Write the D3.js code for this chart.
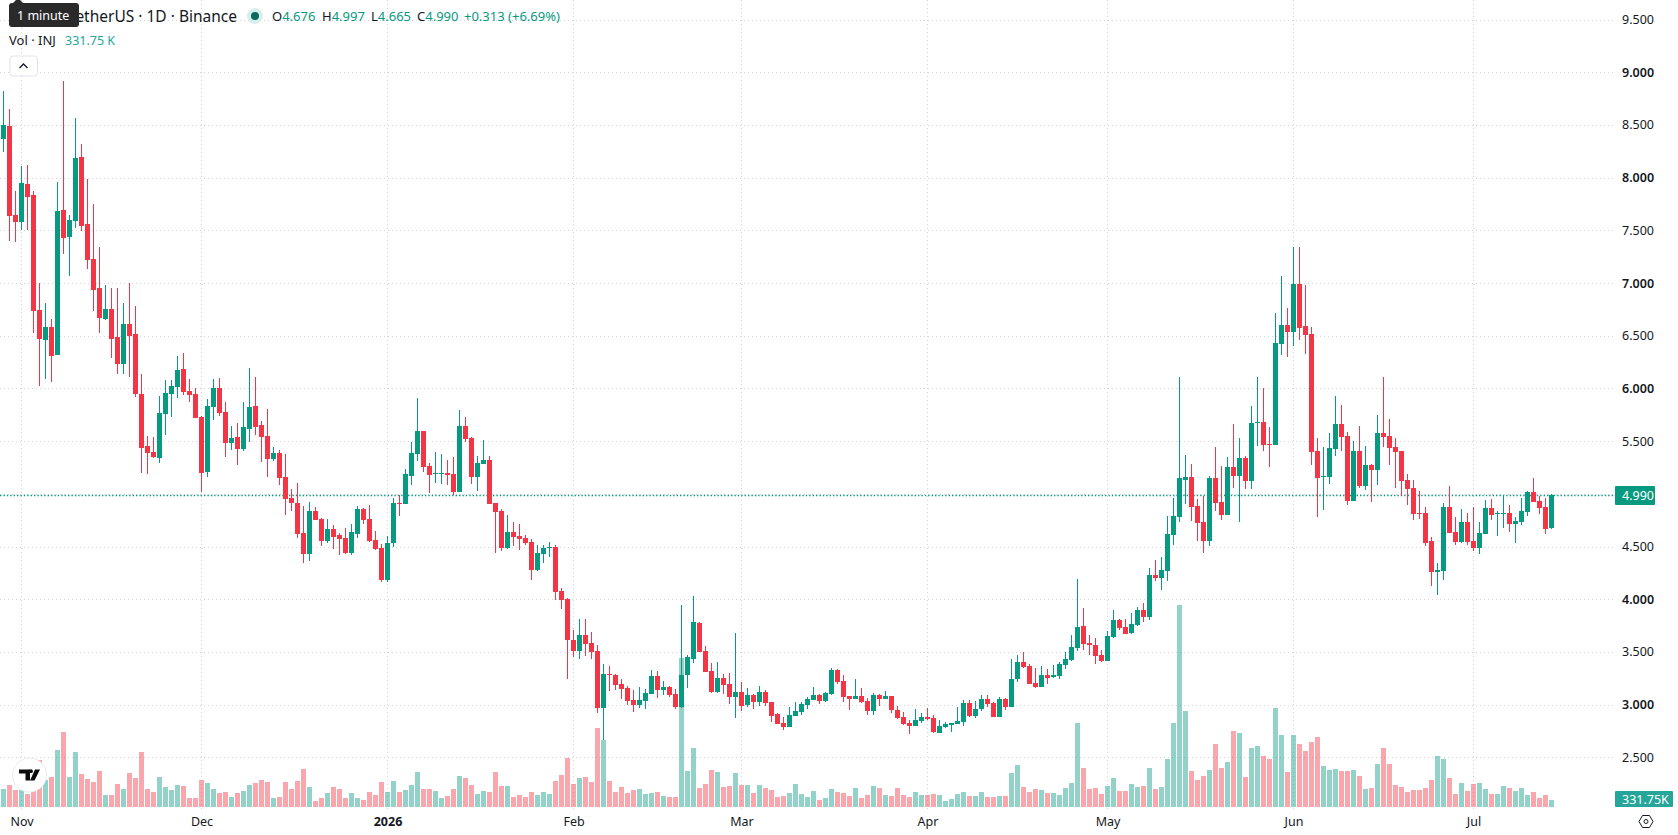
<!DOCTYPE html>
<html>
<head>
<meta charset="utf-8">
<title>INJ / TetherUS 1D</title>
<script src="https://cdn.jsdelivr.net/npm/d3@7/dist/d3.min.js"></script>
<style>
  html, body { margin: 0; padding: 0; background: #fff; overflow: hidden; }
  svg { display: block; font-family: "Noto Sans", sans-serif; }
</style>
</head>
<body>
<svg id="chart" width="1678" height="835"></svg>
<script>
// Daily INJ/USDT candles and traded volume (thousands of INJ), oldest first.
const firstDay = "2025-10-29";

const opens = [
  8.367,8.490,7.646,7.579,7.940,7.836,6.744,6.459,6.583,6.317,
  7.693,7.437,7.589,8.196,7.560,7.228,6.953,6.659,6.754,6.488,
  6.232,6.611,6.516,5.947,5.453,5.396,5.339,5.757,5.947,6.014,
  6.184,5.975,5.947,5.729,5.207,5.823,6.004,5.776,5.482,5.539,
  5.425,5.615,5.833,5.652,5.548,5.330,5.387,5.159,4.959,4.912,
  4.627,4.428,4.836,4.760,4.551,4.665,4.608,4.580,4.437,4.618,
  4.855,4.760,4.561,4.485,4.181,4.532,4.912,4.902,5.168,5.377,
  5.595,5.263,5.187,5.187,5.197,5.187,5.016,5.643,5.529,5.159,
  5.282,5.320,4.912,4.836,4.485,4.637,4.599,4.580,4.542,4.276,
  4.428,4.485,4.494,4.076,4.000,3.611,3.507,3.659,3.583,3.507,
  2.966,3.288,3.279,3.193,3.156,3.042,2.994,3.032,3.099,3.269,
  3.137,3.165,3.099,2.975,3.279,3.431,3.772,3.507,3.317,3.118,
  3.250,3.193,3.070,3.118,2.994,3.089,3.023,3.118,3.023,2.909,
  2.823,2.785,2.890,2.928,2.994,3.042,3.089,3.032,3.099,3.333,
  3.228,3.086,3.057,3.086,3.038,2.943,3.095,3.057,3.086,2.953,
  2.886,2.829,2.801,2.848,2.886,2.877,2.735,2.792,2.810,2.820,
  2.839,3.019,2.896,2.962,3.057,3.019,2.886,3.057,2.981,3.247,
  3.408,3.371,3.209,3.171,3.285,3.266,3.276,3.380,3.421,3.535,
  3.744,3.583,3.564,3.469,3.412,3.640,3.801,3.735,3.678,3.754,
  3.896,3.830,4.228,4.200,4.266,4.608,4.779,5.130,5.158,4.883,
  4.731,4.551,5.149,4.921,4.798,5.253,5.168,5.339,5.120,5.671,
  5.683,5.475,5.465,6.424,6.604,6.538,6.993,6.595,6.519,5.408,
  5.161,5.161,5.427,5.665,5.551,4.934,5.408,5.076,5.275,5.228,
  5.579,5.551,5.446,5.408,5.133,5.057,4.820,4.820,4.554,4.260,
  4.269,4.877,4.639,4.544,4.734,4.554,4.488,4.620,4.867,4.810,
  4.810,4.820,4.715,4.734,4.829,5.019,4.934,4.877,4.676
];

const highs = [
  8.823,8.652,7.874,8.111,8.120,7.874,6.997,6.811,6.659,7.959,
  8.918,7.646,8.566,8.320,7.987,7.750,7.342,6.981,6.953,6.953,
  6.811,6.997,6.782,6.137,5.548,5.539,5.928,6.080,6.080,6.308,
  6.336,6.089,6.004,5.738,5.900,6.089,6.099,5.871,5.643,5.672,
  5.871,6.194,6.108,5.691,5.804,5.444,5.415,5.377,5.045,5.102,
  4.883,4.921,4.874,4.769,4.760,4.703,4.627,4.675,4.712,4.883,
  4.864,4.893,4.646,4.523,4.599,4.959,4.988,5.235,5.491,5.908,
  5.595,5.292,5.396,5.377,5.320,5.348,5.795,5.728,5.538,5.358,
  5.510,5.358,4.912,4.855,4.798,4.731,4.712,4.608,4.570,4.513,
  4.513,4.542,4.510,4.105,4.010,3.706,3.810,3.810,3.687,3.564,
  3.383,3.364,3.288,3.241,3.175,3.137,3.165,3.146,3.326,3.317,
  3.222,3.175,3.146,3.943,3.469,4.029,3.782,3.554,3.393,3.402,
  3.288,3.298,3.678,3.212,3.156,3.099,3.175,3.137,3.023,2.918,
  2.880,2.975,3.023,3.023,3.070,3.165,3.099,3.118,3.345,3.342,
  3.285,3.086,3.247,3.162,3.067,3.114,3.105,3.133,3.086,2.991,
  2.934,2.858,2.962,2.924,2.972,2.905,2.858,2.839,2.829,2.981,
  3.048,3.048,3.038,3.095,3.095,3.029,3.076,3.067,3.437,3.475,
  3.500,3.390,3.352,3.371,3.342,3.380,3.408,3.503,3.659,4.190,
  3.915,3.659,3.630,3.516,3.697,3.896,3.811,3.811,3.868,3.925,
  3.962,4.295,4.371,4.399,4.788,4.959,6.108,5.367,5.282,4.950,
  4.978,5.168,5.443,5.263,5.348,5.662,5.529,5.358,5.832,6.108,
  6.006,5.636,6.718,7.069,6.766,7.345,7.345,6.984,6.585,5.532,
  5.446,5.579,5.930,5.845,5.589,5.503,5.646,5.456,5.285,5.750,
  6.111,5.712,5.532,5.408,5.190,5.133,5.029,4.877,4.592,4.345,
  4.915,5.076,4.782,4.858,4.820,4.877,4.734,4.943,4.953,4.839,
  4.991,4.896,4.782,4.962,5.029,5.152,4.981,4.962,4.997
];

const lows = [
  8.244,7.399,7.389,7.503,7.503,6.526,6.023,6.089,6.061,6.317,
  7.276,7.067,7.522,7.494,7.133,6.735,6.526,6.649,6.289,6.137,
  6.137,6.108,5.918,5.197,5.187,5.339,5.292,5.558,5.729,5.909,
  5.938,5.871,5.719,5.017,5.159,5.700,5.738,5.349,5.415,5.273,
  5.406,5.491,5.558,5.301,5.159,5.311,5.083,4.798,4.836,4.580,
  4.342,4.361,4.750,4.504,4.532,4.475,4.418,4.428,4.418,4.580,
  4.712,4.542,4.466,4.162,4.162,4.494,4.788,4.902,5.083,5.310,
  5.206,5.007,5.102,5.092,5.083,4.988,5.016,5.491,5.092,5.026,
  5.282,4.902,4.437,4.456,4.475,4.504,4.466,4.513,4.181,4.266,
  4.342,4.399,3.991,3.905,3.241,3.450,3.431,3.459,3.431,2.918,
  2.662,3.127,3.137,3.051,2.994,2.928,2.966,2.956,3.099,3.061,
  3.089,3.070,2.956,2.966,3.156,3.393,3.497,3.307,3.108,3.108,
  3.099,3.004,2.871,2.937,2.975,2.956,2.985,2.985,2.833,2.814,
  2.757,2.785,2.890,2.899,2.956,3.042,3.004,3.023,3.089,3.200,
  3.029,2.953,3.057,3.019,2.905,2.905,2.991,3.057,2.924,2.867,
  2.810,2.725,2.801,2.829,2.858,2.735,2.735,2.782,2.744,2.820,
  2.801,2.886,2.877,2.943,2.981,2.886,2.886,2.953,2.981,3.219,
  3.352,3.200,3.162,3.171,3.200,3.257,3.247,3.342,3.412,3.507,
  3.516,3.469,3.383,3.402,3.412,3.630,3.706,3.668,3.668,3.744,
  3.782,3.801,4.171,4.086,4.171,4.513,4.731,4.902,4.741,4.551,
  4.437,4.503,4.836,4.750,4.798,5.054,4.731,5.045,5.045,5.453,
  5.408,5.256,5.465,6.319,6.301,6.405,6.462,6.329,5.275,4.782,
  4.848,5.095,5.361,5.408,4.896,4.934,5.057,5.038,4.924,5.086,
  5.446,5.275,5.057,4.981,4.896,4.753,4.763,4.507,4.127,4.041,
  4.184,4.630,4.516,4.535,4.516,4.459,4.431,4.620,4.753,4.602,
  4.677,4.639,4.535,4.706,4.791,4.924,4.810,4.620,4.665
];

const closes = [
  8.500,7.636,7.579,7.949,7.817,6.735,6.469,6.583,6.308,7.684,
  7.428,7.598,8.187,7.541,7.219,6.934,6.668,6.754,6.469,6.232,
  6.611,6.497,5.947,5.434,5.387,5.349,5.766,5.956,6.023,6.175,
  5.966,5.938,5.719,5.197,5.833,6.004,5.766,5.482,5.529,5.425,
  5.634,5.823,5.634,5.539,5.330,5.387,5.149,4.950,4.912,4.618,
  4.428,4.836,4.750,4.551,4.665,4.589,4.570,4.437,4.637,4.855,
  4.750,4.551,4.475,4.181,4.532,4.912,4.902,5.187,5.386,5.595,
  5.254,5.178,5.197,5.197,5.178,5.016,5.643,5.519,5.159,5.292,
  5.320,4.902,4.826,4.485,4.637,4.589,4.570,4.532,4.276,4.437,
  4.485,4.494,4.067,3.991,3.611,3.507,3.659,3.573,3.497,2.966,
  3.288,3.279,3.184,3.146,3.032,2.994,3.042,3.108,3.269,3.137,
  3.165,3.089,2.975,3.279,3.450,3.782,3.497,3.307,3.118,3.250,
  3.184,3.070,3.118,2.985,3.089,3.023,3.118,3.013,2.890,2.814,
  2.785,2.899,2.937,3.004,3.051,3.089,3.032,3.108,3.326,3.219,
  3.076,3.057,3.086,3.029,2.943,3.095,3.057,3.086,2.953,2.877,
  2.820,2.801,2.858,2.886,2.867,2.744,2.801,2.820,2.829,2.848,
  3.019,2.896,2.962,3.057,3.010,2.886,3.057,2.981,3.247,3.408,
  3.361,3.200,3.171,3.285,3.257,3.285,3.390,3.434,3.545,3.735,
  3.573,3.564,3.459,3.412,3.649,3.801,3.725,3.668,3.763,3.896,
  3.830,4.228,4.200,4.276,4.617,4.788,5.149,5.158,4.874,4.722,
  4.551,5.149,4.912,4.798,5.253,5.168,5.339,5.120,5.671,5.680,
  5.465,5.465,6.433,6.604,6.538,6.993,6.576,6.509,5.399,5.152,
  5.171,5.437,5.665,5.541,4.934,5.408,5.076,5.275,5.228,5.579,
  5.541,5.437,5.399,5.123,5.048,4.810,4.810,4.535,4.260,4.279,
  4.877,4.630,4.544,4.734,4.544,4.488,4.630,4.867,4.801,4.820,
  4.820,4.715,4.744,4.839,5.019,4.924,4.867,4.668,4.990
];

const volumes = [
  853,1043,806,806,616,758,2228,1280,1422,2702,
  3555,1422,2607,1564,1327,1185,1706,569,569,1090,
  853,1612,1375,2607,853,711,1422,948,806,1043,
  995,427,427,1280,1138,853,664,711,474,664,
  758,1043,1138,1280,1185,427,474,1185,853,1232,
  1801,948,284,427,664,948,853,427,664,427,
  332,711,569,1185,711,1232,711,806,1043,1659,
  853,853,758,427,521,853,1469,1375,1043,616,
  758,711,1659,995,995,474,569,474,711,569,
  711,616,1232,1517,2323,1090,1375,1422,1185,3745,
  3176,1232,711,948,664,806,853,616,664,711,
  521,474,474,7063,1706,2797,901,1090,1754,1659,
  948,995,1612,1043,1043,664,1043,901,806,474,
  521,664,1090,616,474,758,332,427,853,711,
  664,521,901,427,569,995,901,569,521,901,
  569,474,711,569,569,616,569,284,379,616,
  711,521,521,711,474,474,521,521,1612,1991,
  948,711,853,806,664,664,569,901,1138,3982,
  1849,853,901,616,995,1375,758,758,1090,948,
  995,1849,853,948,2275,3982,9575,4550,1706,1280,
  1469,1754,2986,1849,2133,3602,3508,1422,2797,2891,
  2417,2275,4693,3413,1659,3413,2986,2654,3081,3318,
  1943,1754,1801,1706,1706,1754,1469,853,901,2038,
  2797,2038,1043,948,711,806,806,901,1280,2417,
  2275,1375,616,1138,758,1090,1138,853,616,616,
  995,901,758,901,569,711,427,569,331.75
];

const priceTicks = [9.5, 9, 8.5, 8, 7.5, 7, 6.5, 6, 5.5, 5, 4.5, 4, 3.5, 3, 2.5];
const monthStarts = ["2025-11-01","2025-12-01","2026-01-01","2026-02-01","2026-03-01","2026-04-01","2026-05-01","2026-06-01","2026-07-01"];
const monthLabels = ["Nov","Dec","2026","Feb","Mar","Apr","May","Jun","Jul"];

const UP = "#089981", DOWN = "#F23645", INK = "#131722", GRID = "#d4d4d4";
const PANE_RIGHT = 1613, PANE_BOTTOM = 807;

const days = closes.map((_, i) => d3.utcDay.offset(new Date(firstDay + "T00:00:00Z"), i));
const candles = closes.map((c, i) => ({
  day: days[i], open: opens[i], high: highs[i], low: lows[i], close: c, volume: volumes[i], up: c >= opens[i]
}));
const last = candles[candles.length - 1];

const x = d3.scaleUtc().domain([days[0], days[days.length - 1]]).range([3.5, 1551.5]);
const y = d3.scaleLinear().domain([9, 2.5]).range([72.3, 757.3]);
const yVol = d3.scaleLinear().domain([0, 9575]).range([PANE_BOTTOM, 605]);
const monthDates = monthStarts.map(d => new Date(d + "T00:00:00Z"));

const svg = d3.select("#chart");

// Dotted grid behind everything
const grid = svg.append("g").attr("stroke", GRID).attr("stroke-dasharray", "1 3").attr("shape-rendering", "crispEdges");
grid.selectAll("line.h").data(priceTicks).join("line").attr("class", "h")
  .attr("x1", 0).attr("x2", PANE_RIGHT)
  .attr("y1", d => Math.round(y(d)) + 0.5).attr("y2", d => Math.round(y(d)) + 0.5);
grid.selectAll("line.v").data(monthDates).join("line").attr("class", "v")
  .attr("x1", d => x(d)).attr("x2", d => x(d))
  .attr("y1", 0).attr("y2", PANE_BOTTOM + 2);

// Volume histogram along the bottom of the pane
svg.append("g").attr("shape-rendering", "crispEdges")
  .selectAll("rect").data(candles).join("rect")
  .attr("x", d => x(d.day) - 2.5)
  .attr("width", 5)
  .attr("y", d => Math.round(yVol(d.volume)))
  .attr("height", d => PANE_BOTTOM - Math.round(yVol(d.volume)))
  .attr("fill", d => d.up ? UP : DOWN)
  .attr("fill-opacity", 0.44);

// Last price marker line
svg.append("line")
  .attr("x1", 0).attr("x2", PANE_RIGHT)
  .attr("y1", Math.round(y(last.close)) + 0.5).attr("y2", Math.round(y(last.close)) + 0.5)
  .attr("stroke", UP).attr("stroke-width", 1.4).attr("stroke-dasharray", "1.4 2");

// Candles: wick first, then body
const candle = svg.append("g").attr("shape-rendering", "crispEdges")
  .selectAll("g").data(candles).join("g")
  .attr("fill", d => d.up ? UP : DOWN);
candle.append("rect")
  .attr("x", d => x(d.day) - 0.5)
  .attr("width", 1)
  .attr("y", d => Math.round(y(d.high)))
  .attr("height", d => Math.max(1, Math.round(y(d.low)) - Math.round(y(d.high))));
candle.append("rect")
  .attr("x", d => x(d.day) - 2.5)
  .attr("width", 5)
  .attr("y", d => Math.round(y(Math.max(d.open, d.close))))
  .attr("height", d => Math.max(1, Math.round(y(Math.min(d.open, d.close))) - Math.round(y(Math.max(d.open, d.close)))));

// Price axis on the right
const priceAxis = svg.append("g")
  .attr("transform", "translate(1622,0)")
  .call(d3.axisRight(y).tickValues(priceTicks.filter(t => t !== 5)).tickSize(0).tickPadding(0).tickFormat(d3.format(".3f")));
priceAxis.select(".domain").remove();
priceAxis.selectAll("text")
  .attr("fill", INK).attr("font-size", 12.5).attr("font-family", '"Noto Sans", sans-serif')
  .attr("font-weight", d => Number.isInteger(d) ? 600 : 400);

// Time axis along the bottom
const timeAxis = svg.append("g")
  .attr("transform", "translate(0,817)")
  .call(d3.axisBottom(x).tickValues(monthDates).tickSize(0).tickPadding(0).tickFormat((d, i) => monthLabels[i]));
timeAxis.select(".domain").remove();
timeAxis.selectAll("text")
  .attr("fill", INK).attr("font-size", 12.5).attr("font-family", '"Noto Sans", sans-serif')
  .attr("font-weight", (d, i) => monthLabels[i] === "2026" ? 700 : 400);

// Value tags on the price axis
function priceTag(yTop, width, height, fill, label) {
  svg.append("rect").attr("x", 1615).attr("y", yTop).attr("width", width).attr("height", height).attr("rx", 1).attr("fill", fill);
  svg.append("text").attr("x", 1622).attr("y", yTop + height / 2 + 4.5).attr("fill", "#fff").attr("font-size", 12.5).text(label);
}
priceTag(Math.round(y(last.close)) - 9, 40, 19, UP, d3.format(".3f")(last.close));
priceTag(791, 58, 16, "#26a69a", d3.format(".2f")(last.volume) + "K");

// Legend: symbol line, its start sits under the tooltip
svg.append("text").attr("x", 237).attr("y", 22).attr("text-anchor", "end")
  .attr("fill", INK).attr("font-size", 15.5).text("etherUS · 1D · Binance");
svg.append("circle").attr("cx", 255).attr("cy", 16).attr("r", 8).attr("fill", "#d8efeb");
svg.append("circle").attr("cx", 255).attr("cy", 16).attr("r", 4).attr("fill", "#0b6b5a");

const ohlcItems = [["O", last.open, 272], ["H", last.high, 322], ["L", last.low, 371], ["C", last.close, 417]];
ohlcItems.forEach(([letter, value, at]) => {
  const t = svg.append("text").attr("x", at).attr("y", 21).attr("font-size", 13);
  t.append("tspan").attr("fill", INK).text(letter);
  t.append("tspan").attr("fill", UP).text(d3.format(".3f")(value));
});
svg.append("text").attr("x", 464).attr("y", 21).attr("font-size", 13).attr("fill", UP)
  .text("+0.313 (+6.69%)");

// Legend: volume line
svg.append("text").attr("x", 9).attr("y", 45).attr("font-size", 13).attr("fill", INK).text("Vol · INJ");
svg.append("text").attr("x", 65).attr("y", 45).attr("font-size", 12.5).attr("fill", "#26a69a").text("331.75 K");

// Collapse button
svg.append("rect").attr("x", 10).attr("y", 56).attr("width", 27.5).attr("height", 20).attr("rx", 3)
  .attr("fill", "#fff").attr("stroke", "#e0e3eb");
svg.append("path").attr("d", "M19.5 68 L23.5 64 L27.5 68").attr("fill", "none").attr("stroke", INK).attr("stroke-width", 1.3);

// Tooltip over the start of the symbol line
svg.append("path").attr("d", "M12 4 L18 -2 L24 4 Z").attr("fill", "#2a2a2a");
svg.append("rect").attr("x", 9).attr("y", 3).attr("width", 70).attr("height", 24).attr("rx", 3).attr("fill", "#2a2a2a");
svg.append("text").attr("x", 17).attr("y", 20).attr("fill", "#fff").attr("font-size", 12.5).text("1 minute");

// Brand badge at the lower left of the pane
const badge = svg.append("g").attr("transform", "translate(29.5,775)");
badge.append("circle").attr("r", 17).attr("fill", "#fff").attr("stroke", "#ececec").attr("stroke-width", 1);
badge.append("path").attr("fill", "#0b0b0b")
  .attr("d", "M-10.5 -5.5 H0.5 V5.5 H-4 V-1.5 H-10.5 Z M10.5 -5.5 L5 5.5 H0.5 L5.5 -5.5 Z");
badge.append("circle").attr("cx", 1.5).attr("cy", -3.8).attr("r", 1.9).attr("fill", "#0b0b0b");

// Settings hexagon in the corner between the axes
const gear = svg.append("g").attr("transform", "translate(1646,821.5)").attr("fill", "none").attr("stroke", INK).attr("stroke-width", 1);
gear.append("path").attr("d", "M-3.5 -6 H3.5 L7 0 L3.5 6 H-3.5 L-7 0 Z");
gear.append("circle").attr("r", 2);
</script>
</body>
</html>
